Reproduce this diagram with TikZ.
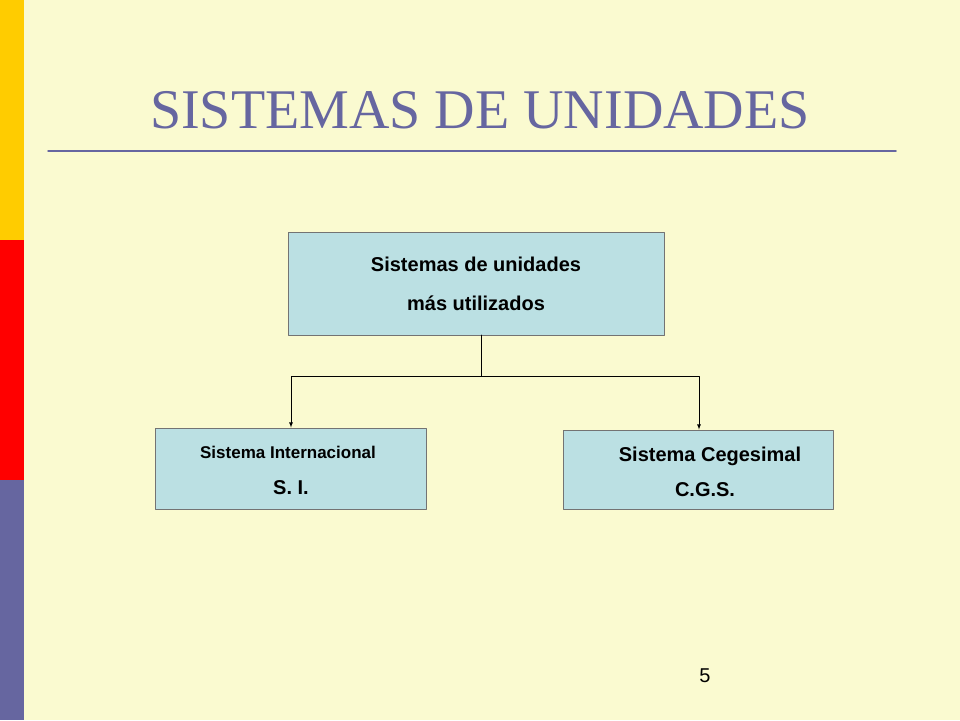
\documentclass[tikz,border=0pt]{standalone}
\usepackage{fontspec}
\setmainfont{Liberation Serif}
\setsansfont{Liberation Sans}
\usetikzlibrary{arrows}
\definecolor{slidebg}{HTML}{FAFAD0}
\definecolor{titleblue}{HTML}{6666A0}
\definecolor{boxfill}{HTML}{BBE0E3}
\definecolor{barred}{HTML}{FF0000}
\definecolor{baryellow}{HTML}{FFCC00}
\tikzset{
  unitbox/.style={draw=black!55,line width=0.9pt,fill=boxfill,align=center,
    font=\sffamily\bfseries},
  link/.style={line width=0.8pt},
}
\begin{document}
\begin{tikzpicture}[line cap=round,line join=round,>=latex,x=1pt,y=-1pt]
\useasboundingbox (0,0) rectangle (960,720);
\fill[slidebg] (0,0) rectangle (960,720);
% side bars
\fill[baryellow] (0,0) rectangle (24,240);
\fill[barred] (0,240) rectangle (24,480);
\fill[titleblue] (0,480) rectangle (24,720);
% title
\node[titleblue,font=\fontsize{56}{60}\selectfont] (title) at (480,110) {SISTEMAS DE UNIDADES};
\draw[titleblue,line width=1.5pt] (48,151) -- (896,151);
% boxes
\node[unitbox,minimum width=376,minimum height=103,font=\sffamily\bfseries\fontsize{20}{39}\selectfont] (top) at (476,283.5)
  {\hspace*{0pt}Sistemas de unidades\\más utilizados};
\node[unitbox,minimum width=271,minimum height=81] (si) at (290.5,468.5) {};
\node[font=\sffamily\bfseries\fontsize{17}{20}\selectfont] (siname) at (288,452) {Sistema Internacional};
\node[font=\sffamily\bfseries\fontsize{20}{24}\selectfont] (siabbr) at (291,488) {S. I.};
\node[unitbox,minimum width=270,minimum height=79] (cgs) at (698,469.5) {};
\node[font=\sffamily\bfseries\fontsize{20}{24}\selectfont] (cgsname) at (710,456) {Sistema Cegesimal};
\node[font=\sffamily\bfseries\fontsize{20}{24}\selectfont] (cgsabbr) at (705,490) {C.G.S.};
% connectors
\coordinate (fork) at (481,376);
\draw[link] (481,335) -- (fork);
\draw[link,->] (fork) -- (291,376) -- (si.north -| 291,0);
\draw[link,->] (fork) -- (699,376) -- (cgs.north -| 699,0);
% page number
\node[font=\sffamily\fontsize{20}{24}\selectfont] (page) at (705,676) {5};
\end{tikzpicture}
\end{document}
